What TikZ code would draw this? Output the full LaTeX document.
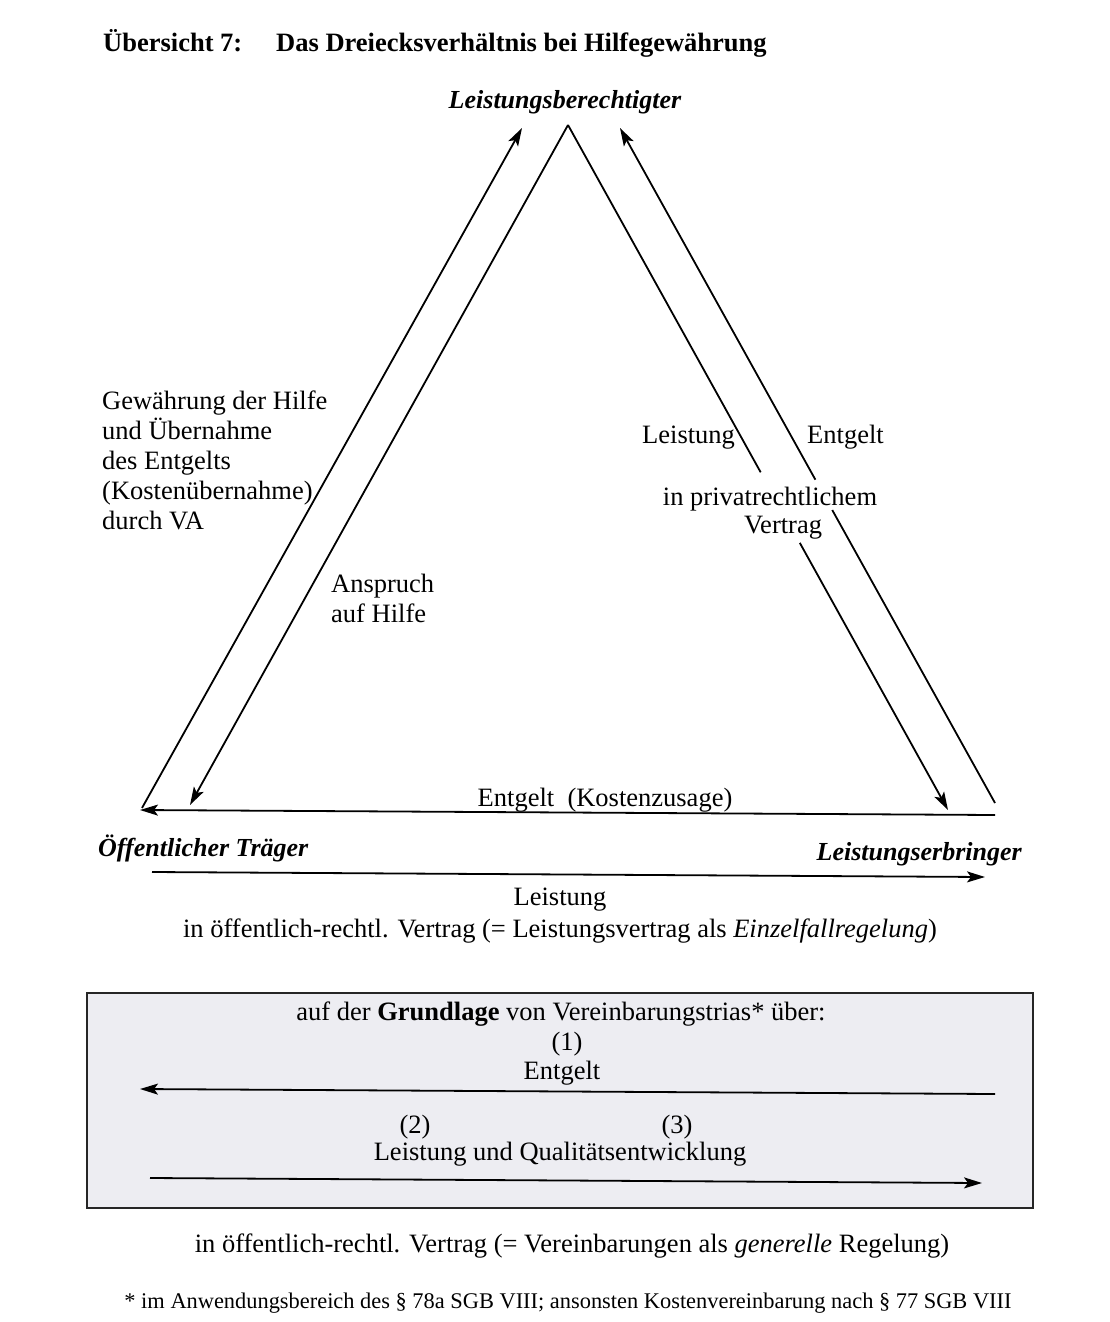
\documentclass[tikz,border=0pt]{standalone}
\usepackage{fontspec}
\setmainfont{Liberation Serif}
\usetikzlibrary{arrows.meta,calc}
\definecolor{boxgrey}{HTML}{EDEDF2}
\begin{document}
\begin{tikzpicture}[x=1pt,y=-1pt,
  txt/.style={font=\fontsize{26.5}{30}\selectfont, inner sep=0pt},
  small/.style={font=\fontsize{22.4}{26}\selectfont, inner sep=0pt},
  party/.style={font=\fontsize{26}{30}\selectfont\bfseries\itshape, inner sep=0pt},
  ttl/.style={font=\fontsize{26.5}{30}\selectfont\bfseries, inner sep=0pt},
  line/.style={line width=1.8pt},
  conn/.style={line width=1.8pt, -{Stealth[length=18pt,width=11pt,inset=4pt]}},
  greybox/.style={draw=black!85, line width=1.8pt, fill=boxgrey}]
\useasboundingbox (0,0) rectangle (1110,1322);
\fill[white] (0,0) rectangle (1110,1322);

% title
\node[ttl, anchor=base west] (t1) at (103,52) {Übersicht 7:};
\node[ttl, anchor=base west] (t2) at (276,52) {Das Dreiecksverhältnis bei Hilfegewährung};

% parties
\node[party, anchor=base] (lb) at (565,108) {Leistungsberechtigter};
\node[party, anchor=base west] (ot) at (98,856) {Öffentlicher Träger};
\node[party, anchor=base east] (le) at (1022,860) {Leistungserbringer};

% triangle coordinates
\coordinate (apex) at (568,125);
\coordinate (LOtail) at (142,808);
\coordinate (LOhead) at (522,128);
\coordinate (LIhead) at (190,805);
\coordinate (RIhead) at (948,810);
\coordinate (ROtail) at (995,803);
\coordinate (ROhead) at (620,128);
\coordinate (Btail) at (995,815);
\coordinate (Bhead) at (140,810);
\coordinate (Ltail) at (152,872);
\coordinate (Lhead) at (985,877);

% left side
\draw[conn] (LOtail) -- (LOhead);
\draw[conn] (apex) -- (LIhead);
% right side (broken by text)
\draw[line] (apex) -- ($(apex)!0.507!(RIhead)$);
\draw[conn] ($(apex)!0.610!(RIhead)$) -- (RIhead);
\draw[line] (ROtail) -- ($(ROtail)!0.434!(ROhead)$);
\draw[conn] ($(ROtail)!0.479!(ROhead)$) -- (ROhead);
% bottom
\draw[conn] (Btail) -- (Bhead);
\draw[conn] (Ltail) -- (Lhead);

% labels
\node[txt, anchor=north west, align=left] (gew) at (102,391)
  {Gewährung der Hilfe\\und Übernahme\\des Entgelts\\(Kostenübernahme)\\durch VA};
\node[txt, anchor=north west, align=left] (ansp) at (331,574) {Anspruch\\auf Hilfe};
\node[txt, anchor=base west] (leis1) at (642,443) {Leistung};
\node[txt, anchor=base west] (entg1) at (807,443) {Entgelt};
\node[txt, anchor=base] (priv) at (770,505) {in privatrechtlichem};
\node[txt, anchor=base] (vert) at (783,533) {Vertrag};
\node[txt, anchor=base] (kz) at (605,806) {Entgelt\ \ (Kostenzusage)};
\node[txt, anchor=base] (leis2) at (560,905) {Leistung};
\node[txt, anchor=base] (oer1) at (560,937) {in öffentlich-rechtl. Vertrag (= Leistungsvertrag als \textit{Einzelfallregelung})};

% grey box
\draw[greybox] (87,993) rectangle (1033,1208);
\coordinate (G1tail) at (995,1094);
\coordinate (G1head) at (140,1089);
\coordinate (G2tail) at (150,1178);
\coordinate (G2head) at (982,1183);
\node[txt, anchor=base] (grund) at (561,1020) {auf der \textbf{Grundlage} von Vereinbarungstrias* über:};
\node[txt, anchor=base] (n1) at (567,1050) {(1)};
\node[txt, anchor=base] (entg2) at (562,1079) {Entgelt};
\draw[conn] (G1tail) -- (G1head);
\node[txt, anchor=base] (n2) at (415,1133) {(2)};
\node[txt, anchor=base] (n3) at (677,1133) {(3)};
\node[txt, anchor=base] (lq) at (560,1160) {Leistung und Qualitätsentwicklung};
\draw[conn] (G2tail) -- (G2head);

\node[txt, anchor=base] (oer2) at (572,1252) {in öffentlich-rechtl. Vertrag (= Vereinbarungen als \textit{generelle} Regelung)};
\node[small, anchor=base] (fn) at (568,1308) {* im Anwendungsbereich des § 78a SGB VIII; ansonsten Kostenvereinbarung nach § 77 SGB VIII};
\end{tikzpicture}
\end{document}
